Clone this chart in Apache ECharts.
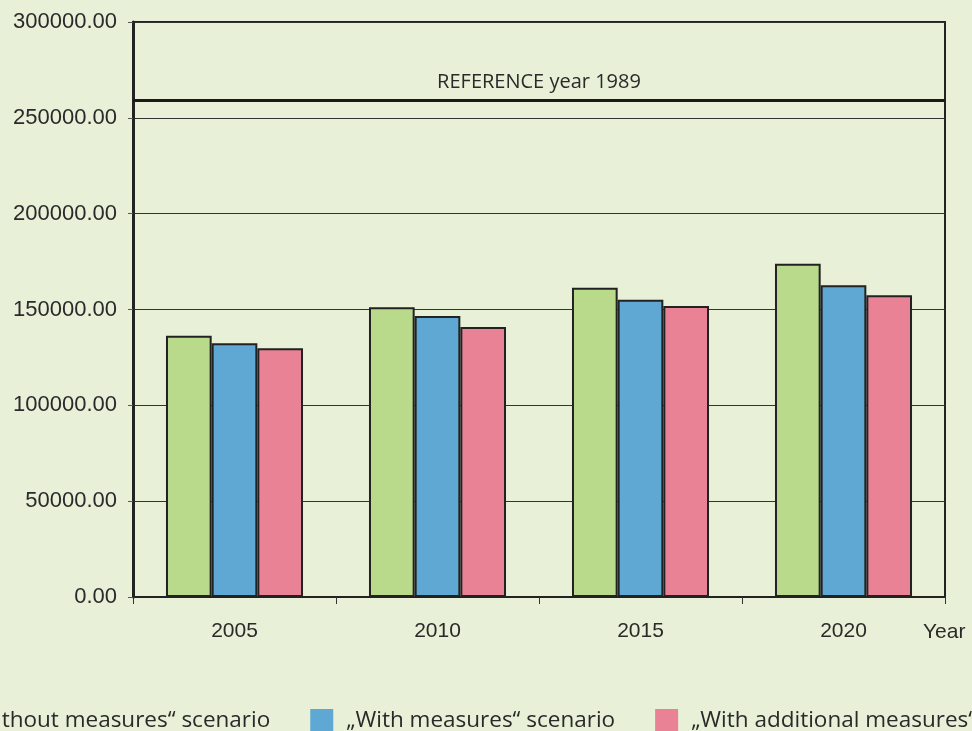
<!DOCTYPE html>
<html>
<head>
<meta charset="utf-8">
<script src="https://cdn.jsdelivr.net/npm/echarts@6/dist/echarts.min.js"></script>
<style>html,body{margin:0;padding:0;background:#E8F1D8;}#c{width:972px;height:731px;}</style>
</head>
<body>
<div id="c"></div>
<script>
var categories = ['2005', '2010', '2015', '2020'];
var seriesNames = ['\u201EWithout measures\u201C scenario', '\u201EWith measures\u201C scenario', '\u201EWith additional measures\u201C scenario'];
var withoutMeasures = [136300, 151150, 161400, 173900];
var withMeasures = [132400, 146600, 155100, 162600];
var withAdditional = [129800, 140900, 151800, 157400];
var referenceValue = 259300;
var referenceLabel = 'REFERENCE year 1989';
var yTicks = [0, 50000, 100000, 150000, 200000, 250000, 300000];

var colors = ['#B8DA8A', '#5FA8D3', '#E88294'];
var chart = echarts.init(document.getElementById('c'));
var barStyle = function (c) {
  return { color: c, borderColor: '#222', borderWidth: 2 };
};
chart.setOption({
  backgroundColor: '#E8F1D8',
  animation: false,
  grid: { left: 133, right: 27, top: 22, bottom: 134, show: true, borderColor: '#222', borderWidth: 2, backgroundColor: 'transparent' },
  legend: {
    left: -75, top: 704, width: 1400, itemWidth: 23, itemHeight: 23, itemGap: 40,
    icon: 'rect',
    textStyle: { fontFamily: 'Open Sans', fontSize: 22.5, color: '#2a2a2a', padding: [0, 0, 0, 8] },
    itemStyle: { borderWidth: 0 },
    data: seriesNames
  },
  xAxis: {
    type: 'category', data: categories,
    axisLine: { lineStyle: { color: '#222', width: 2 } },
    axisTick: { show: true, length: 7, lineStyle: { color: '#333', width: 1 } },
    axisLabel: { fontFamily: 'Liberation Sans', fontSize: 21, color: '#2a2a2a', margin: 24 },
    name: 'Year', nameLocation: 'end', nameGap: -22,
    nameTextStyle: { fontFamily: 'Liberation Sans', fontSize: 21, color: '#2a2a2a', align: 'left', verticalAlign: 'top', padding: [25, 0, 0, 0] }
  },
  yAxis: {
    type: 'value', min: 0, max: 300000, interval: 50000,
    axisLine: { show: true, lineStyle: { color: '#222', width: 3 } },
    axisTick: { show: true, length: 5, lineStyle: { color: '#555' } },
    axisLabel: { fontFamily: 'Liberation Sans', fontSize: 22, color: '#2a2a2a', margin: 16, padding: [4, 0, 0, 0],
      formatter: function (v) { return v.toFixed(2); } },
    splitLine: { show: true, lineStyle: { color: '#333', width: 1 } }
  },
  series: [
    { name: seriesNames[0], type: 'bar', data: withoutMeasures, barGap: '0%', barCategoryGap: '32.5%', itemStyle: barStyle(colors[0]),
      markLine: {
        silent: true, symbol: ['none', 'none'],
        lineStyle: { color: '#1a1a1a', width: 3, type: 'solid' },
        label: { show: true, position: 'insideMiddleTop', formatter: referenceLabel, fontFamily: 'Open Sans', fontSize: 20, color: '#2a2a2a', distance: 8 },
        data: [{ yAxis: referenceValue }]
      }
    },
    { name: seriesNames[1], type: 'bar', data: withMeasures, itemStyle: barStyle(colors[1]) },
    { name: seriesNames[2], type: 'bar', data: withAdditional, itemStyle: barStyle(colors[2]) }
  ]
});
</script>
</body>
</html>
